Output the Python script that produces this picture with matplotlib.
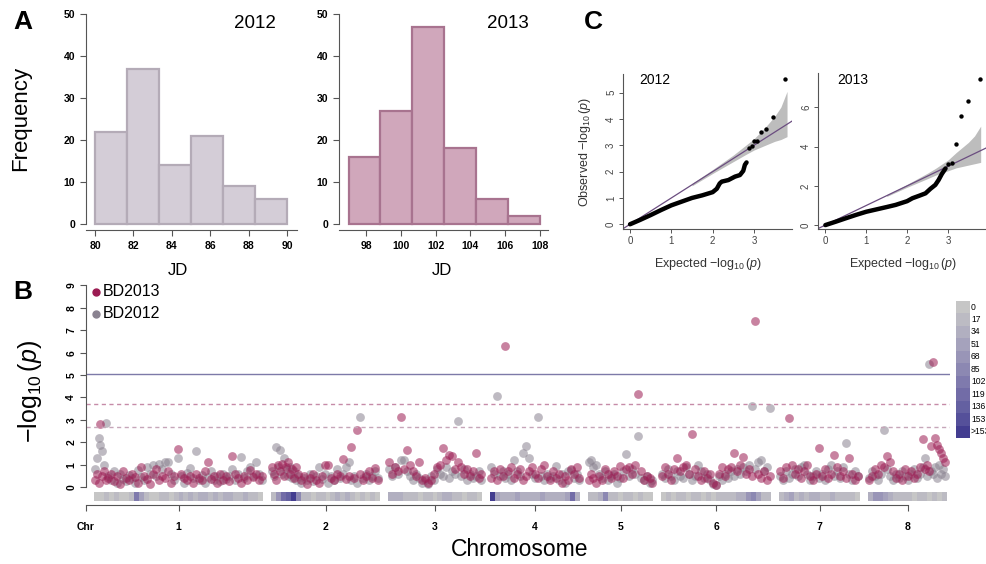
import numpy as np
import matplotlib.pyplot as plt
from matplotlib.colors import ListedColormap, BoundaryNorm

plt.rcParams['font.family'] = 'Liberation Sans'
plt.rcParams['mathtext.fontset'] = 'custom'
plt.rcParams['mathtext.rm'] = 'Liberation Sans'
plt.rcParams['mathtext.it'] = 'Liberation Sans:italic'

# ---------------- A: flowering date (JD) histograms ----------------
jd2012_edges = [80, 81.67, 83.33, 85, 86.67, 88.33, 90]
jd2012_counts = [22, 37, 14, 21, 9, 6]
jd2013_edges = [97, 98.83, 100.67, 102.5, 104.33, 106.17, 108]
jd2013_counts = [16, 27, 47, 18, 6, 2]

# ---------------- C: QQ plots ----------------
qq12_exp = [0, 0.25, 0.5, 0.75, 1.0, 1.25, 1.5, 1.75, 2.0, 2.1, 2.17, 2.22, 2.38, 2.54, 2.66, 2.74, 2.78, 2.82]
qq12_obs = [0, 0.17, 0.35, 0.54, 0.72, 0.86, 1.0, 1.1, 1.22, 1.35, 1.55, 1.62, 1.68, 1.81, 1.87, 2.03, 2.26, 2.35]
qq12_top_exp = [2.87, 2.95, 3.0, 3.08, 3.16, 3.3, 3.46, 3.76]
qq12_top_obs = [2.89, 2.98, 3.17, 3.17, 3.52, 3.61, 4.07, 5.52]
band12_x = [1.5, 2.0, 2.5, 2.8, 3.0, 3.27, 3.5, 3.65, 3.8]
band12_hi = [1.55, 2.08, 2.63, 3.0, 3.25, 3.68, 4.1, 4.45, 5.05]
band12_lo = [1.46, 1.93, 2.38, 2.65, 2.82, 3.0, 3.15, 3.22, 3.33]

qq13_exp = [0, 0.25, 0.49, 0.75, 1.0, 1.25, 1.5, 1.72, 2.0, 2.13, 2.3, 2.45, 2.57, 2.69, 2.77, 2.85, 2.94]
qq13_obs = [0, 0.17, 0.34, 0.52, 0.68, 0.8, 0.92, 1.03, 1.22, 1.37, 1.5, 1.62, 1.85, 2.05, 2.3, 2.61, 2.89]
qq13_top_exp = [3.0, 3.09, 3.2, 3.31, 3.48, 3.79]
qq13_top_obs = [3.14, 3.18, 4.15, 5.57, 6.34, 7.43]
band13_x = [1.5, 2.0, 2.5, 2.7, 3.0, 3.2, 3.5, 3.65, 3.8]
band13_hi = [1.55, 2.08, 2.65, 2.9, 3.32, 3.7, 4.22, 4.55, 5.05]
band13_lo = [1.46, 1.93, 2.37, 2.55, 2.77, 2.92, 3.06, 3.13, 3.2]

# ---------------- B: Manhattan plot ----------------
chrom_names = ['1', '2', '3', '4', '5', '6', '7', '8']
chrom_lengths = [169, 109, 94, 90, 65, 110, 81, 79]

pos_chr1 = [1, 3, 5, 6, 8, 10, 12, 14, 17, 20, 23, 26, 29, 32, 35, 38, 41, 44, 47, 50, 53, 56, 59, 62, 65, 68,
            71, 74, 77, 80, 84, 87, 90, 93, 96, 99, 102, 105, 108, 111, 114, 117, 120, 123, 126, 129, 132, 135,
            138, 141, 144, 147, 150, 153, 156, 159, 162, 165, 168]
bd2012_chr1 = [0.8, 1.3, 2.17, 1.9, 1.6, 1.0, 2.87, 0.5, 0.3, 0.7, 0.2, 0.6, 0.35, 0.25, 0.55, 0.4, 0.2, 0.75,
               0.45, 0.3, 0.9, 0.6, 1.0, 0.5, 1.05, 0.8, 1.1, 1.1, 0.6, 0.3, 1.3, 0.5, 0.2, 0.65, 0.85, 0.4, 1.6,
               0.3, 0.55, 0.2, 0.45, 0.7, 0.3, 0.5, 0.25, 0.6, 0.35, 0.5, 0.8, 0.3, 0.6, 1.35, 0.4, 0.7, 0.9,
               0.5, 1.1, 0.6, 0.3]
bd2013_chr1 = [0.3, 0.6, 0.2, 2.8, 0.5, 0.7, 0.3, 0.4, 0.6, 0.25, 0.5, 0.15, 0.7, 0.4, 0.3, 0.6, 0.45, 0.2, 0.9,
               0.5, 0.35, 0.15, 0.6, 0.8, 0.3, 0.5, 0.4, 0.7, 0.2, 0.5, 1.7, 0.6, 0.4, 0.3, 0.5, 0.2, 0.6, 0.4,
               0.3, 0.7, 1.1, 0.35, 0.5, 0.2, 0.6, 0.3, 0.5, 0.25, 1.4, 0.6, 0.4, 0.2, 0.5, 0.3, 0.75, 0.45,
               0.6, 0.3, 0.5]

pos_chr2 = [1, 3, 5, 7, 9, 11, 13, 15, 17, 19, 21, 23, 25, 27, 30, 33, 36, 39, 42, 45, 48, 51, 54, 57, 60, 63,
            66, 69, 72, 75, 78, 80, 83, 86, 89, 92, 95, 98, 101, 104, 107]
bd2012_chr2 = [0.7, 0.5, 1.77, 0.9, 1.65, 0.6, 1.3, 0.8, 0.5, 0.9, 0.4, 0.7, 0.3, 0.5, 0.2, 0.4, 0.3, 0.6, 0.25,
               0.5, 0.9, 0.35, 0.6, 0.2, 0.5, 0.3, 0.8, 0.4, 0.6, 0.9, 1.1, 0.3, 0.5, 0.2, 3.15, 0.4, 0.6, 0.3,
               0.5, 0.7, 0.4]
bd2013_chr2 = [0.9, 0.6, 0.3, 1.0, 0.7, 1.05, 0.5, 0.9, 1.1, 0.6, 0.8, 0.4, 0.9, 0.6, 0.3, 0.5, 0.15, 0.4, 0.6,
               0.3, 0.2, 0.5, 1.0, 1.0, 0.4, 0.3, 0.6, 0.5, 1.25, 0.35, 0.5, 1.77, 0.4, 2.56, 0.6, 0.3, 0.5,
               0.7, 0.4, 0.85, 0.3]

pos_chr3 = [1, 4, 7, 10, 13, 16, 19, 22, 25, 28, 31, 34, 37, 40, 43, 46, 49, 52, 55, 58, 61, 64, 67, 70, 73, 76,
            79, 82, 85, 88, 91, 93]
bd2012_chr3 = [0.8, 0.5, 0.9, 0.6, 1.2, 1.2, 0.7, 0.5, 0.3, 0.6, 0.4, 0.2, 0.3, 0.15, 0.5, 0.3, 0.8, 0.6, 0.5,
               0.9, 0.4, 0.7, 0.6, 2.96, 0.5, 0.8, 0.3, 0.6, 0.4, 0.5, 0.7, 0.3]
bd2013_chr3 = [1.1, 0.6, 0.9, 0.7, 3.15, 0.8, 1.65, 1.0, 0.7, 0.5, 1.1, 0.3, 0.4, 0.2, 0.3, 0.6, 0.9, 1.0, 1.73,
               1.2, 1.45, 1.4, 0.8, 1.1, 0.9, 0.6, 0.8, 0.5, 0.7, 1.5, 0.4, 0.6]

pos_chr4 = [1, 4, 7, 10, 13, 15, 18, 21, 24, 27, 30, 33, 36, 39, 42, 45, 48, 51, 54, 57, 60, 63, 66, 69, 72, 75,
            78, 81, 84, 87, 89]
bd2012_chr4 = [0.9, 0.6, 4.06, 0.5, 0.7, 0.4, 0.6, 0.3, 1.2, 0.7, 0.5, 1.5, 1.84, 1.3, 0.6, 0.4, 3.14, 0.5, 0.3,
               0.6, 0.4, 0.5, 0.95, 0.3, 0.6, 0.2, 0.7, 0.75, 0.4, 0.6, 0.3]
bd2013_chr4 = [0.4, 0.7, 0.3, 0.8, 0.5, 6.31, 0.7, 0.9, 0.4, 0.6, 0.8, 0.3, 0.5, 0.7, 0.9, 0.6, 0.4, 0.8, 1.0,
               0.5, 0.3, 0.7, 0.4, 0.6, 0.2, 0.5, 0.3, 0.8, 0.6, 0.9, 0.4]

pos_chr5 = [1, 3, 5, 8, 11, 14, 17, 20, 23, 26, 29, 32, 35, 38, 41, 44, 47, 50, 53, 56, 59, 62, 64]
bd2012_chr5 = [1.1, 1.2, 0.9, 1.0, 0.6, 0.4, 0.7, 0.3, 0.5, 0.6, 0.2, 0.4, 0.7, 1.47, 0.5, 0.8, 0.6, 2.3, 0.4,
               0.3, 0.5, 0.2, 0.3]
bd2013_chr5 = [0.3, 0.6, 0.4, 0.2, 0.5, 0.3, 0.8, 0.6, 0.4, 0.7, 0.5, 0.95, 0.4, 0.8, 0.9, 0.6, 1.0, 4.15, 0.7,
               0.3, 0.5, 0.4, 0.2]

pos_chr6 = [1, 4, 7, 10, 13, 16, 19, 22, 25, 28, 31, 34, 37, 40, 43, 46, 49, 52, 55, 58, 61, 64, 67, 70, 73, 76,
            79, 82, 85, 88, 91, 94, 97, 100, 103, 106, 109]
bd2012_chr6 = [0.6, 0.4, 0.8, 0.5, 0.3, 0.7, 0.5, 0.4, 0.9, 0.6, 0.3, 0.5, 1.0, 0.7, 0.4, 0.6, 0.3, 0.15, 0.1,
               0.5, 0.3, 0.6, 0.4, 0.7, 0.5, 0.8, 0.6, 0.9, 0.7, 1.0, 3.6, 0.8, 1.1, 1.2, 0.7, 0.9, 3.51]
bd2013_chr6 = [0.5, 0.9, 0.6, 0.3, 0.8, 1.3, 0.7, 0.9, 1.0, 0.6, 2.35, 0.8, 0.5, 0.3, 0.7, 0.4, 0.6, 0.2, 0.1,
               0.6, 0.9, 0.5, 0.8, 0.9, 1.5, 0.7, 1.0, 1.35, 0.6, 0.8, 0.5, 7.41, 0.6, 0.4, 0.7, 0.3, 0.5]

pos_chr7 = [1, 4, 7, 10, 13, 16, 19, 22, 25, 28, 31, 34, 37, 40, 43, 46, 49, 52, 55, 58, 61, 64, 67, 70, 73, 76, 79]
bd2012_chr7 = [0.5, 0.3, 0.7, 0.4, 0.6, 0.8, 0.5, 0.9, 1.0, 0.6, 0.3, 0.5, 0.7, 0.4, 0.6, 0.3, 0.8, 1.0, 0.5,
               0.7, 0.4, 0.9, 1.96, 0.6, 0.3, 0.7, 0.5]
bd2013_chr7 = [0.7, 0.4, 0.9, 3.08, 1.0, 0.6, 0.8, 0.4, 0.7, 1.0, 0.5, 0.3, 0.6, 1.75, 0.5, 0.8, 0.4, 0.6, 1.45,
               0.9, 0.5, 0.7, 0.4, 1.3, 0.6, 0.3, 0.5]

pos_chr8 = [1, 4, 7, 10, 13, 16, 19, 22, 25, 28, 31, 34, 37, 40, 43, 46, 49, 52, 55, 57, 59, 61, 63, 65, 67, 69,
            71, 73, 75, 77]
bd2012_chr8 = [0.4, 0.7, 0.5, 0.3, 0.6, 2.53, 0.8, 0.5, 0.3, 0.6, 0.4, 0.7, 0.5, 0.3, 0.6, 0.8, 0.4, 0.6, 0.9,
               1.3, 0.5, 5.49, 0.7, 0.6, 0.9, 0.4, 1.0, 0.6, 0.8, 0.5]
bd2013_chr8 = [0.3, 0.5, 0.8, 0.6, 1.0, 0.9, 1.4, 1.1, 0.7, 0.4, 0.6, 0.3, 0.8, 0.5, 0.7, 0.4, 0.6, 0.9, 2.16,
               0.8, 1.0, 0.7, 1.85, 5.57, 2.17, 1.9, 1.7, 1.5, 1.3, 1.1]

# SNP density (markers per window) shown in the strip under each chromosome
dens_chr1 = [15, 12, 20, 14, 25, 15, 12, 30, 110, 60, 20, 15, 14, 25, 20, 15, 30, 35, 25, 40, 30, 45, 35, 25,
             40, 30, 45, 35, 25, 30, 40, 20, 25, 15]
dens_chr2 = [25, 70, 120, 145, 170, 90, 30, 20, 15, 25, 20, 15, 30, 40, 25, 35, 20, 15, 25, 15, 20, 15]
dens_chr3 = [45, 40, 35, 30, 25, 20, 15, 20, 25, 15, 30, 35, 40, 25, 20, 15, 25, 20, 15]
dens_chr4 = [170, 55, 35, 45, 40, 55, 35, 50, 45, 40, 55, 35, 45, 40, 50, 65, 130, 45]
dens_chr5 = [25, 20, 35, 100, 30, 20, 15, 20, 25, 15, 20, 15, 12]
dens_chr6 = [15, 20, 15, 25, 20, 15, 20, 25, 15, 20, 15, 25, 20, 30, 25, 35, 45, 80, 90, 65, 30, 20]
dens_chr7 = [25, 35, 55, 30, 45, 25, 40, 35, 30, 25, 45, 30, 25, 20, 25, 15]
dens_chr8 = [45, 80, 70, 60, 45, 30, 25, 20, 25, 15, 20, 25, 15, 20, 15, 20]

dens_bounds = [0, 17, 34, 51, 68, 85, 102, 119, 136, 153, 170, 10000]
dens_labels = ['0', '17', '34', '51', '68', '85', '102', '119', '136', '153', '>153']
dens_colors = ['#c6c6c6', '#bcbbc3', '#b1afc0', '#a5a2bc', '#9995b7', '#8c88b2', '#7f7aad',
               '#726ca7', '#6460a1', '#55509a', '#433d90']

thresholds = [5.03, 3.7, 2.69]

# ---------------- figure ----------------
W, H = 986, 564
fig = plt.figure(figsize=(W / 100, H / 100), dpi=100)


def px_axes(left, top, right, bottom):
    return fig.add_axes([left / W, 1 - bottom / H, (right - left) / W, (bottom - top) / H])


def px_text(x, y, s, **kw):
    fig.text(x / W, 1 - y / H, s, ha=kw.pop('ha', 'center'), va=kw.pop('va', 'center'), **kw)


def bold_ticks(ax):
    for lab in ax.get_xticklabels() + ax.get_yticklabels():
        lab.set_fontweight('bold')


def hist_panel(ax, edges, counts, face, edge, xlim, xticks):
    ax.bar(edges[:-1], counts, width=np.diff(edges), align='edge', color=face, edgecolor=edge, linewidth=1.6)
    ax.set_xlim(*xlim)
    ax.set_ylim(-1.43, 50)
    ax.spines[['top', 'right']].set_visible(False)
    ax.spines['left'].set_bounds(0, 50)
    for sp in ax.spines.values():
        sp.set_color('#555555')
    ax.set_yticks(range(0, 51, 10))
    ax.set_xticks(xticks)
    ax.tick_params(direction='out', length=4, width=0.8, labelsize=7.5, color='#555555', pad=4)
    bold_ticks(ax)


ax_a1 = px_axes(86, 14, 297, 230)
hist_panel(ax_a1, jd2012_edges, jd2012_counts, '#d4cdd7', '#b4abb7', (79.53, 90.52), range(80, 91, 2))
ax_a2 = px_axes(339, 14, 548, 230)
hist_panel(ax_a2, jd2013_edges, jd2013_counts, '#d0a7bb', '#a8738f', (96.45, 108.46), range(98, 109, 2))

px_text(23, 22, 'A', fontsize=19, fontweight='bold')
px_text(21, 118, 'Frequency', fontsize=16, rotation=90)
px_text(255, 24, '2012', fontsize=13.5)
px_text(508, 24, '2013', fontsize=13.5)
px_text(178, 270, 'JD', fontsize=12)
px_text(442, 270, 'JD', fontsize=12)


def qq_panel(ax, cx, cy, ox, oy, bx, blo, bhi, xlim, ylim, yticks):
    ax.fill_between(bx, blo, bhi, color='#bdbdbd', lw=0)
    ax.plot(xlim, xlim, color='#6b4d80', lw=0.9)
    ax.plot(cx, cy, color='black', lw=3.2, solid_capstyle='round', solid_joinstyle='round')
    ax.scatter(ox, oy, s=10, color='black', zorder=3, linewidths=0)
    ax.set_xlim(*xlim)
    ax.set_ylim(*ylim)
    ax.spines[['top', 'right']].set_visible(False)
    for sp in ax.spines.values():
        sp.set_color('#555555')
        sp.set_linewidth(0.8)
    ax.set_xticks([0, 1, 2, 3])
    ax.set_yticks(yticks)
    ax.tick_params(direction='out', length=3, width=0.7, labelsize=7, color='#555555', labelcolor='#444444', pad=2)
    for lab in ax.get_yticklabels():
        lab.set_rotation(90)
        lab.set_va('center')


ax_c1 = px_axes(623, 74, 792, 229)
qq_panel(ax_c1, qq12_exp, qq12_obs, qq12_top_exp, qq12_top_obs, band12_x, band12_lo, band12_hi,
         (-0.17, 3.92), (-0.18, 5.71), range(0, 6))
ax_c2 = px_axes(818, 73, 986, 229)
qq_panel(ax_c2, qq13_exp, qq13_obs, qq13_top_exp, qq13_top_obs, band13_x, band13_lo, band13_hi,
         (-0.18, 3.93), (-0.2, 7.76), [0, 2, 4, 6])

px_text(593, 22, 'C', fontsize=19, fontweight='bold')
px_text(655, 80, '2012', fontsize=10)
px_text(853, 80, '2013', fontsize=10)
px_text(708, 264, r'Expected $-\log_{10}(p)$', fontsize=9, color='#333333')
px_text(903, 264, r'Expected $-\log_{10}(p)$', fontsize=9, color='#333333')
px_text(585, 152, r'Observed $-\log_{10}(p)$', fontsize=9, color='#333333', rotation=90)

# ---------------- B ----------------
ax_b = px_axes(86, 283, 950, 505)
positions = [pos_chr1, pos_chr2, pos_chr3, pos_chr4, pos_chr5, pos_chr6, pos_chr7, pos_chr8]
vals2012 = [bd2012_chr1, bd2012_chr2, bd2012_chr3, bd2012_chr4, bd2012_chr5, bd2012_chr6, bd2012_chr7, bd2012_chr8]
vals2013 = [bd2013_chr1, bd2013_chr2, bd2013_chr3, bd2013_chr4, bd2013_chr5, bd2013_chr6, bd2013_chr7, bd2013_chr8]
densities = [dens_chr1, dens_chr2, dens_chr3, dens_chr4, dens_chr5, dens_chr6, dens_chr7, dens_chr8]

col2013 = '#9b1b52'
col2012 = '#8a8290'
gap = 8
starts = []
s0 = gap
for L in chrom_lengths:
    starts.append(s0)
    s0 += L + gap

dens_cmap = ListedColormap(dens_colors)
dens_norm = BoundaryNorm(dens_bounds, dens_cmap.N)

for st, L, pos, v12, v13, dens in zip(starts, chrom_lengths, positions, vals2012, vals2013, densities):
    x = np.array(pos) + st
    ax_b.scatter(x, v12, s=40, color=col2012, alpha=0.55, linewidths=0)
    ax_b.scatter(x, v13, s=40, color=col2013, alpha=0.55, linewidths=0)
    xe = np.linspace(st, st + L, len(dens) + 1)
    ax_b.pcolormesh(xe, [-0.625, -0.22], [dens], cmap=dens_cmap, norm=dens_norm)

ax_b.axhline(thresholds[0], color='#7d7aa8', lw=1)
ax_b.axhline(thresholds[1], color='#c68ba8', lw=1, ls=(0, (3, 2.5)))
ax_b.axhline(thresholds[2], color='#c6a6b9', lw=1, ls=(0, (3, 2.5)))

centers = [st + L / 2 for st, L in zip(starts, chrom_lengths)]
ax_b.set_xlim(0, 864)
ax_b.set_ylim(-0.8, 9.11)
ax_b.spines[['top', 'right']].set_visible(False)
ax_b.spines['left'].set_bounds(0, 9)
ax_b.spines['bottom'].set_bounds(0, centers[-1])
for sp in ax_b.spines.values():
    sp.set_color('#555555')
ax_b.set_xticks([0] + centers)
ax_b.set_xticklabels(['Chr'] + chrom_names)
ax_b.set_yticks(range(0, 10))
ax_b.tick_params(direction='out', length=4, width=0.8, labelsize=7.5, color='#555555', pad=8)
ax_b.tick_params(axis='y', pad=3)
bold_ticks(ax_b)
for lab in ax_b.get_yticklabels():
    lab.set_rotation(90)
    lab.set_va('center')

# legend
fig.lines.append(plt.Line2D([96 / W], [1 - 292 / H], marker='o', ms=5, color=col2013, transform=fig.transFigure))
fig.lines.append(plt.Line2D([96 / W], [1 - 314 / H], marker='o', ms=5, color=col2012, transform=fig.transFigure))
px_text(103, 292, 'BD2013', fontsize=11.5, ha='left')
px_text(103, 314, 'BD2012', fontsize=11.5, ha='left')

px_text(23, 292, 'B', fontsize=19, fontweight='bold')
px_text(30, 392, r'$-\log_{10}(p)$', fontsize=18, rotation=90)
px_text(520, 550, 'Chromosome', fontsize=16.5)

# density colour key
ax_key = px_axes(956, 301, 970, 438)
ax_key.imshow(np.arange(len(dens_colors)).reshape(-1, 1), cmap=dens_cmap, aspect='auto',
              norm=BoundaryNorm(np.arange(len(dens_colors) + 1) - 0.5, len(dens_colors)))
ax_key.set_axis_off()
for i, lab in enumerate(dens_labels):
    px_text(971, 307 + i * 12.45, lab, fontsize=6.2, ha='left')

fig.savefig('out.png', dpi=100)
